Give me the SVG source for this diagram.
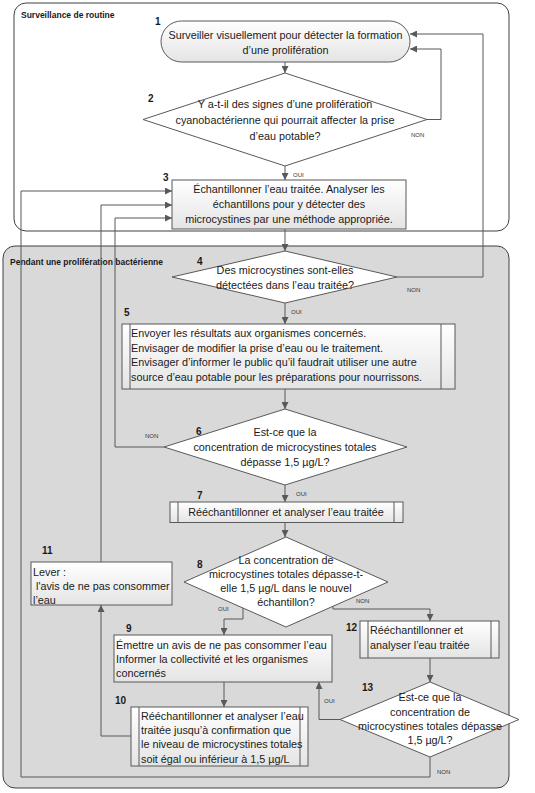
<svg xmlns="http://www.w3.org/2000/svg" width="535" height="793" viewBox="0 0 535 793">
<defs>
<linearGradient id="g" x1="0" y1="0" x2="0" y2="1">
<stop offset="0" stop-color="#ffffff"/>
<stop offset="1" stop-color="#e4e4e4"/>
</linearGradient>
<marker id="ah" viewBox="0 0 8 8" refX="8" refY="4" markerWidth="7" markerHeight="7" markerUnits="userSpaceOnUse" orient="auto">
<path d="M0,0 L8,4 L0,8 z" fill="#595959"/>
</marker>
<style>
.t{font-family:"Liberation Sans",Arial,sans-serif;font-size:10.8px;fill:#1a1a1a}
.m{text-anchor:middle}
.n{font-family:"Liberation Sans",Arial,sans-serif;font-size:10px;font-weight:bold;fill:#1a1a1a}
.h{font-family:"Liberation Sans",Arial,sans-serif;font-size:8.5px;font-weight:bold;fill:#1a1a1a}
.s{font-family:"Liberation Sans",Arial,sans-serif;font-size:6px;fill:#333}
.box{fill:url(#g);stroke:#595959;stroke-width:1}
.dia{fill:#ffffff;stroke:#595959;stroke-width:1}
.ln{fill:none;stroke:#595959;stroke-width:1}
.c{fill:none;stroke:#595959;stroke-width:1;marker-end:url(#ah)}
</style>
</defs>
<g id="containers">
<g id="routine">
<rect x="14" y="3" width="495" height="228" rx="12" fill="#ffffff" stroke="#404040" stroke-width="1"/>
<text class="h" x="21" y="18">Surveillance de routine</text>
</g>
<g id="bloom">
<rect x="3" y="246" width="506" height="542" rx="12" fill="#d9d9d9" stroke="#404040" stroke-width="1"/>
<text class="h" x="10" y="265">Pendant une prolifération bactérienne</text>
</g>
</g>
<g id="connectors">
<path class="c" d="M285,62 V73"/>
<path class="c" d="M427,119.5 H441 V49 H410"/>
<path class="c" d="M285,166 V180"/>
<path class="c" d="M285,229 V251"/>
<path class="c" d="M397,277 H483 V34 H410"/>
<path class="c" d="M285,303 V324"/>
<path class="c" d="M285,389 V409"/>
<path class="c" d="M164,447 H115 V218 H172"/>
<path class="c" d="M285,485 V502"/>
<path class="c" d="M285,522 V537"/>
<path class="c" d="M243,608 V619 H224 V635"/>
<path class="c" d="M333,606 V609 H430 V621"/>
<path class="c" d="M430,658 V682"/>
<path class="c" d="M340,719.5 H319 V682"/>
<path class="c" d="M430,757 V777 H21 V191 H172"/>
<path class="c" d="M224,682 V707"/>
<path class="c" d="M131,736 H101 V605"/>
<path class="c" d="M101,562 V205 H172"/>
<text class="s" x="411" y="137">NON</text>
<text class="s" x="293" y="177">OUI</text>
<text class="s" x="407" y="292">NON</text>
<text class="s" x="291" y="314">OUI</text>
<text class="s" x="145" y="438">NON</text>
<text class="s" x="296" y="496">OUI</text>
<text class="s" x="218" y="611">OUI</text>
<text class="s" x="356" y="603">NON</text>
<text class="s" x="324" y="703">OUI</text>
<text class="s" x="437" y="774">NON</text>
</g>
<g id="node1">
<rect class="box" x="161" y="21" width="249" height="41" rx="20.5"/>
<text class="n" x="155" y="25">1</text>
<text class="t m" x="285.5" y="39">Surveiller visuellement pour détecter la formation</text>
<text class="t m" x="285.5" y="54">d’une prolifération</text>
</g>
<g id="node2">
<polygon class="dia" points="285,73 427,119.5 285,166 143,119.5"/>
<text class="n" x="148" y="102">2</text>
<text class="t m" x="285" y="108">Y a-t-il des signes d’une prolifération</text>
<text class="t m" x="285" y="124">cyanobactérienne qui pourrait affecter la prise</text>
<text class="t m" x="285" y="140">d’eau potable?</text>
</g>
<g id="node3">
<rect class="box" x="172" y="180" width="234" height="49"/>
<text class="n" x="163" y="181">3</text>
<text class="t m" x="289" y="193">Échantillonner l’eau traitée. Analyser les</text>
<text class="t m" x="289" y="208">échantillons pour y détecter des</text>
<text class="t m" x="289" y="223">microcystines par une méthode appropriée.</text>
</g>
<g id="node4">
<polygon class="dia" points="285,251 397,277 285,303 172,277"/>
<text class="n" x="197" y="265">4</text>
<text class="t m" x="285" y="274">Des microcystines sont-elles</text>
<text class="t m" x="285" y="289">détectées dans l’eau traitée?</text>
</g>
<g id="node5">
<rect class="box" x="122" y="324" width="333" height="65"/>
<path class="ln" d="M130,324 V389 M441,324 V389"/>
<text class="n" x="124" y="316">5</text>
<text class="t" x="131" y="337">Envoyer les résultats aux organismes concernés.</text>
<text class="t" x="131" y="352">Envisager de modifier la prise d’eau ou le traitement.</text>
<text class="t" x="131" y="366">Envisager d’informer le public qu’il faudrait utiliser une autre</text>
<text class="t" x="131" y="381">source d’eau potable pour les préparations pour nourrissons.</text>
</g>
<g id="node6">
<polygon class="dia" points="285,409 407,447 285,485 164,447"/>
<text class="n" x="196" y="435">6</text>
<text class="t m" x="285" y="436">Est-ce que la</text>
<text class="t m" x="285" y="451">concentration de microcystines totales</text>
<text class="t m" x="285" y="466">dépasse 1,5 µg/L?</text>
</g>
<g id="node7">
<rect class="box" x="170" y="502" width="233" height="20.5"/>
<path class="ln" d="M178,502 V522.5 M394,502 V522.5"/>
<text class="n" x="197" y="499">7</text>
<text class="t m" x="286" y="516">Rééchantillonner et analyser l’eau traitée</text>
</g>
<g id="node8">
<polygon class="dia" points="286,537 388,582 286,627 184,582"/>
<text class="n" x="197" y="568">8</text>
<text class="t m" x="286" y="564">La concentration de</text>
<text class="t m" x="286" y="578">microcystines totales dépasse-t-</text>
<text class="t m" x="286" y="592">elle 1,5 µg/L dans le nouvel</text>
<text class="t m" x="286" y="606">échantillon?</text>
</g>
<g id="node9">
<rect class="box" x="114" y="635" width="218" height="47"/>
<text class="n" x="126" y="632">9</text>
<text class="t" x="116" y="649">Émettre un avis de ne pas consommer l’eau</text>
<text class="t" x="116" y="663">Informer la collectivité et les organismes</text>
<text class="t" x="116" y="677">concernés</text>
</g>
<g id="node10">
<rect class="box" x="131" y="707" width="177" height="59"/>
<path class="ln" d="M139,707 V766 M300,707 V766"/>
<text class="n" x="115" y="704">10</text>
<text class="t" x="141" y="720">Rééchantillonner et analyser l’eau</text>
<text class="t" x="141" y="734">traitée jusqu’à confirmation que</text>
<text class="t" x="141" y="748">le niveau de microcystines totales</text>
<text class="t" x="141" y="763">soit égal ou inférieur à 1,5 µg/L</text>
</g>
<g id="node11">
<rect class="box" x="31" y="562" width="141" height="43"/>
<text class="n" x="42" y="554">11</text>
<text class="t" x="33" y="576">Lever :</text>
<text class="t" x="36" y="590">l'avis de ne pas consommer</text>
<text class="t" x="33" y="604">l’eau</text>
</g>
<g id="node12">
<rect class="box" x="360" y="621" width="139" height="37"/>
<path class="ln" d="M368,621 V658 M491,621 V658"/>
<text class="n" x="346" y="631">12</text>
<text class="t" x="370" y="634">Rééchantillonner et</text>
<text class="t" x="370" y="649">analyser l’eau traitée</text>
</g>
<g id="node13">
<polygon class="dia" points="430,682 519,719.5 430,757 340,719.5"/>
<text class="n" x="362" y="691">13</text>
<text class="t m" x="430" y="701">Est-ce que la</text>
<text class="t m" x="430" y="716">concentration de</text>
<text class="t m" x="430" y="730">microcystines totales dépasse</text>
<text class="t m" x="430" y="744">1,5 µg/L?</text>
</g>
</svg>
